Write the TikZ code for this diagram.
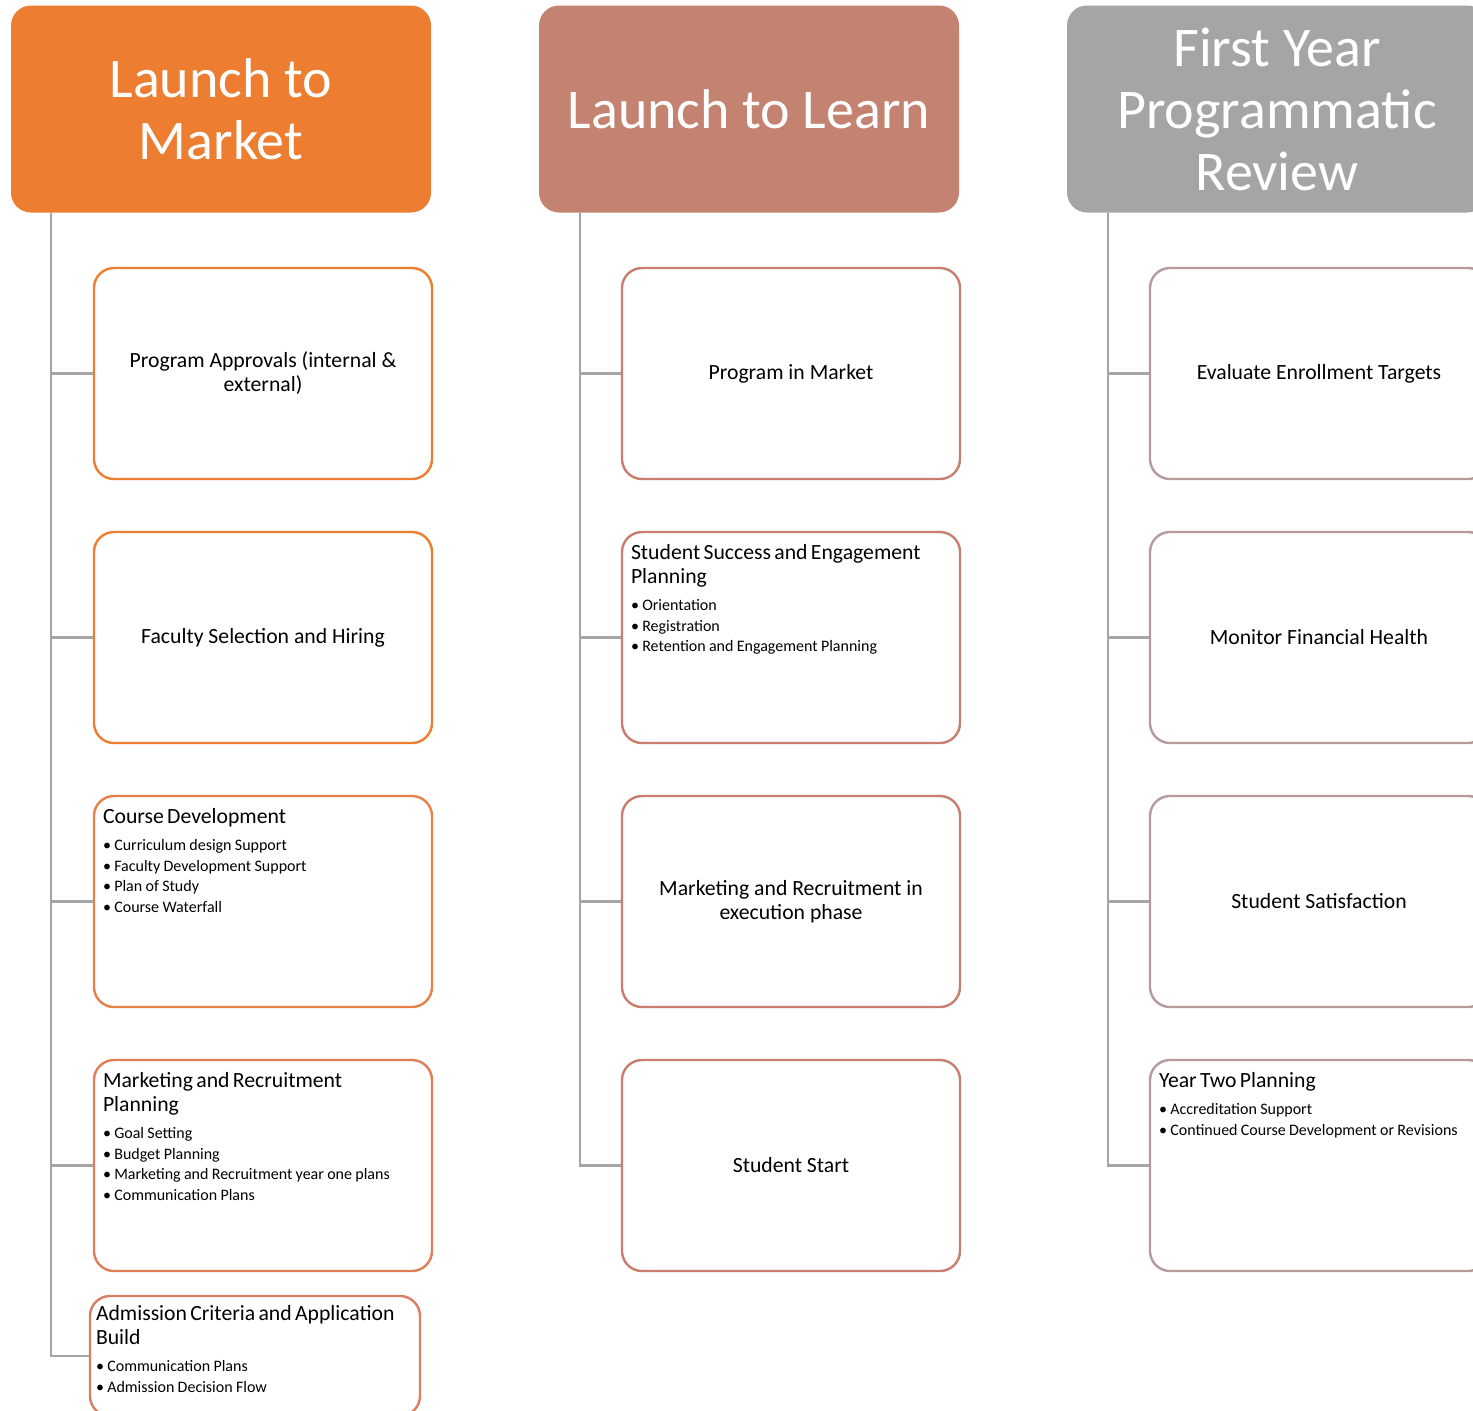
\documentclass[tikz,border=0pt]{standalone}
\usepackage{fontspec}
\setmainfont{Carlito}
\definecolor{hA}{HTML}{ED7D31}
\definecolor{hB}{HTML}{C48271}
\definecolor{hC}{HTML}{A5A5A5}
\definecolor{bA}{HTML}{ED7D31}
\definecolor{bA3}{HTML}{E8804A}
\definecolor{bA4}{HTML}{E27E57}
\definecolor{bA5}{HTML}{DA7E64}
\definecolor{bB}{HTML}{C97F6F}
\definecolor{bC}{HTML}{B59B9C}
\definecolor{spine}{HTML}{A5A5A5}
\begin{document}
\begin{tikzpicture}[x=1pt,y=-1pt,
  hdr/.style={rounded corners=20pt, minimum width=420pt, minimum height=207pt, text=white,
    font=\fontsize{56}{62}\selectfont, align=center, inner sep=0pt},
  itembox/.style={draw, line width=2.4pt, rounded corners=20pt, minimum width=338pt,
    minimum height=211pt, fill=white, inner sep=0pt, align=center,
    font=\fontsize{21.7}{24}\selectfont},
  listtext/.style={anchor=north west, inner sep=0pt, text width=330pt, align=left},
  conn/.style={draw=spine, line width=2.6pt}]
\clip (0,0) rectangle (1473,1411);
\fill[white] (0,0) rectangle (1473,1411);

% headers
\node[hdr, fill=hA] (h1) at (221,109) {Launch to\\Market};
\node[hdr, fill=hB] (h2) at (749,109) {Launch to Learn};
\node[hdr, fill=hC] (h3) at (1277,109) {First Year\\Programmatic\\Review};

\coordinate (s1) at ([xshift=40pt]h1.south west);
\coordinate (s2) at ([xshift=41pt]h2.south west);
\coordinate (s3) at ([xshift=41pt]h3.south west);

% column 1
\node[itembox, draw=bA] (a1) at (263,373.5) {Program Approvals (internal \&\\external)};
\node[itembox, draw=bA] (a2) at (263,637.5) {Faculty Selection and Hiring};
\node[itembox, draw=bA3] (a3) at (263,901.5) {};
\node[itembox, draw=bA4] (a4) at (263,1165.5) {};
\node[itembox, draw=bA5, minimum width=330pt, minimum height=120pt] (a5) at (255,1356) {};

\node[listtext] (a3t) at ([xshift=10pt,yshift=-13pt]a3.north west)
  {\fontsize{21.7}{24}\selectfont Course Development\par\vspace{7pt}
   \fontsize{16}{20.5}\selectfont
   • Curriculum design Support\par
   • Faculty Development Support\par
   • Plan of Study\par
   • Course Waterfall\par};
\node[listtext] (a4t) at ([xshift=10pt,yshift=-13pt]a4.north west)
  {\fontsize{21.7}{24}\selectfont Marketing and Recruitment\\Planning\par\vspace{7pt}
   \fontsize{16}{20.5}\selectfont
   • Goal Setting\par
   • Budget Planning\par
   • Marketing and Recruitment year one plans\par
   • Communication Plans\par};
\node[listtext] (a5t) at ([xshift=7pt,yshift=-10pt]a5.north west)
  {\fontsize{21.7}{24}\selectfont Admission Criteria and Application\\Build\par\vspace{7pt}
   \fontsize{16}{20.5}\selectfont
   • Communication Plans\par
   • Admission Decision Flow\par};

% column 2
\node[itembox, draw=bB] (b1) at (791,373.5) {Program in Market};
\node[itembox, draw=bB] (b2) at (791,637.5) {};
\node[itembox, draw=bB] (b3) at (791,901.5) {Marketing and Recruitment in\\execution phase};
\node[itembox, draw=bB] (b4) at (791,1165.5) {Student Start};
\node[listtext] (b2t) at ([xshift=10pt,yshift=-13pt]b2.north west)
  {\fontsize{21.7}{24}\selectfont Student Success and Engagement\\Planning\par\vspace{7pt}
   \fontsize{16}{20.5}\selectfont
   • Orientation\par
   • Registration\par
   • Retention and Engagement Planning\par};

% column 3
\node[itembox, draw=bC] (c1) at (1319,373.5) {Evaluate Enrollment Targets};
\node[itembox, draw=bC] (c2) at (1319,637.5) {Monitor Financial Health};
\node[itembox, draw=bC] (c3) at (1319,901.5) {Student Satisfaction};
\node[itembox, draw=bC] (c4) at (1319,1165.5) {};
\node[listtext] (c4t) at ([xshift=10pt,yshift=-13pt]c4.north west)
  {\fontsize{21.7}{24}\selectfont Year Two Planning\par\vspace{7pt}
   \fontsize{16}{20.5}\selectfont
   • Accreditation Support\par
   • Continued Course Development or Revisions\par};

% connectors
\foreach \n in {a1,a2,a3,a4,a5} { \draw[conn] (s1) |- (\n.west); }
\foreach \n in {b1,b2,b3,b4} { \draw[conn] (s2) |- (\n.west); }
\foreach \n in {c1,c2,c3,c4} { \draw[conn] (s3) |- (\n.west); }
\end{tikzpicture}
\end{document}
